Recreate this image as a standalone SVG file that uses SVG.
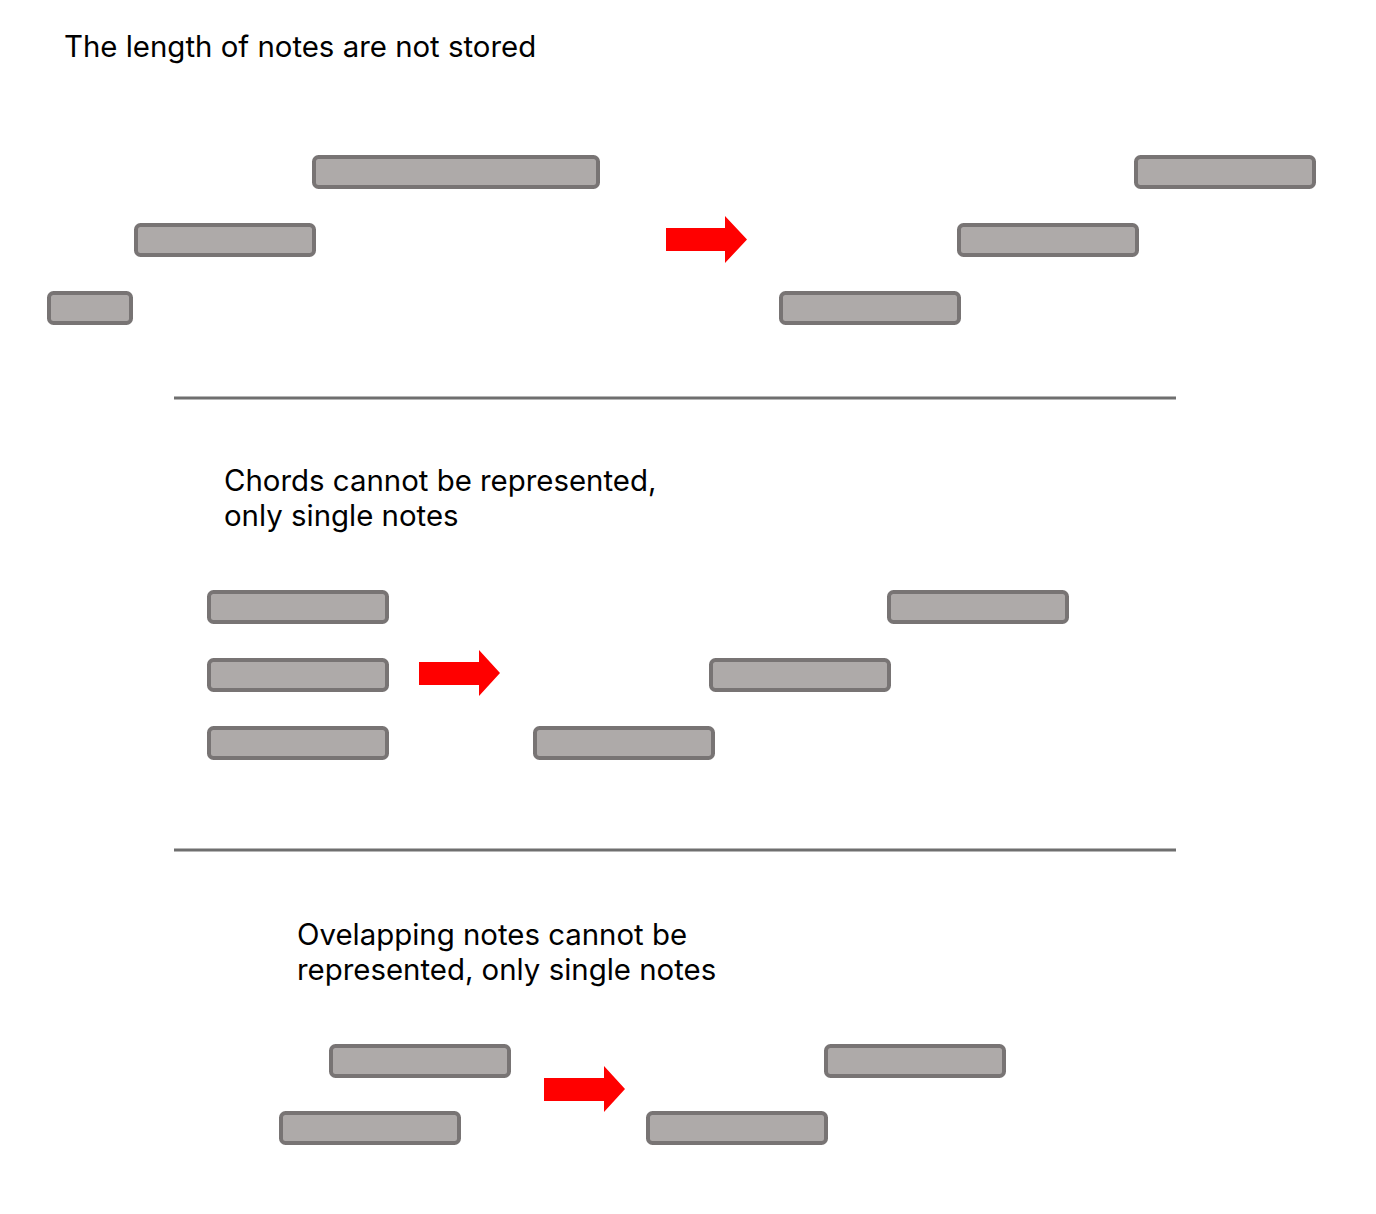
<svg xmlns="http://www.w3.org/2000/svg" width="1376" height="1214" viewBox="0 0 1376 1214">
<style>
.note{fill:#aeaaa9;stroke:#787474;stroke-width:4}
.arrow{fill:#ff0000}
.sep{stroke:#6f6f6f;stroke-width:3}
.t{font-family:Inter,"Noto Sans",sans-serif;font-size:29.4px;fill:#000}
</style>
<rect width="1376" height="1214" fill="#fff"/>
<text class="t" x="64" y="57">The length of notes are not stored</text>
<g id="s1-left-1"><rect class="note" x="49" y="293" width="82" height="30" rx="4.5"/></g>
<g id="s1-left-2"><rect class="note" x="136" y="225" width="178" height="30" rx="4.5"/></g>
<g id="s1-left-3"><rect class="note" x="314" y="157" width="284" height="30" rx="4.5"/></g>
<g id="s1-right-1"><rect class="note" x="781" y="293" width="178" height="30" rx="4.5"/></g>
<g id="s1-right-2"><rect class="note" x="959" y="225" width="178" height="30" rx="4.5"/></g>
<g id="s1-right-3"><rect class="note" x="1136" y="157" width="178" height="30" rx="4.5"/></g>
<line class="sep" x1="174" y1="398" x2="1176" y2="398"/>
<text class="t" x="224" y="491">Chords cannot be represented,</text>
<text class="t" x="224" y="526">only single notes</text>
<g id="s2-left-1"><rect class="note" x="209" y="592" width="178" height="30" rx="4.5"/></g>
<g id="s2-left-2"><rect class="note" x="209" y="660" width="178" height="30" rx="4.5"/></g>
<g id="s2-left-3"><rect class="note" x="209" y="728" width="178" height="30" rx="4.5"/></g>
<g id="s2-right-1"><rect class="note" x="535" y="728" width="178" height="30" rx="4.5"/></g>
<g id="s2-right-2"><rect class="note" x="711" y="660" width="178" height="30" rx="4.5"/></g>
<g id="s2-right-3"><rect class="note" x="889" y="592" width="178" height="30" rx="4.5"/></g>
<line class="sep" x1="174" y1="850" x2="1176" y2="850"/>
<text class="t" x="297" y="945">Ovelapping notes cannot be</text>
<text class="t" x="297" y="980">represented, only single notes</text>
<g id="s3-left-1"><rect class="note" x="331" y="1046" width="178" height="30" rx="4.5"/></g>
<g id="s3-left-2"><rect class="note" x="281" y="1113" width="178" height="30" rx="4.5"/></g>
<g id="s3-right-1"><rect class="note" x="826" y="1046" width="178" height="30" rx="4.5"/></g>
<g id="s3-right-2"><rect class="note" x="648" y="1113" width="178" height="30" rx="4.5"/></g>
<g id="connectors">
<polygon class="arrow" points="666,228 725,228 725,216 747,239.5 725,263 725,251 666,251"/>
<polygon class="arrow" points="419,662 479,662 479,650 500,673 479,696 479,685 419,685"/>
<polygon class="arrow" points="544,1078 604,1078 604,1066 625,1089 604,1112 604,1101 544,1101"/>
</g>
</svg>
